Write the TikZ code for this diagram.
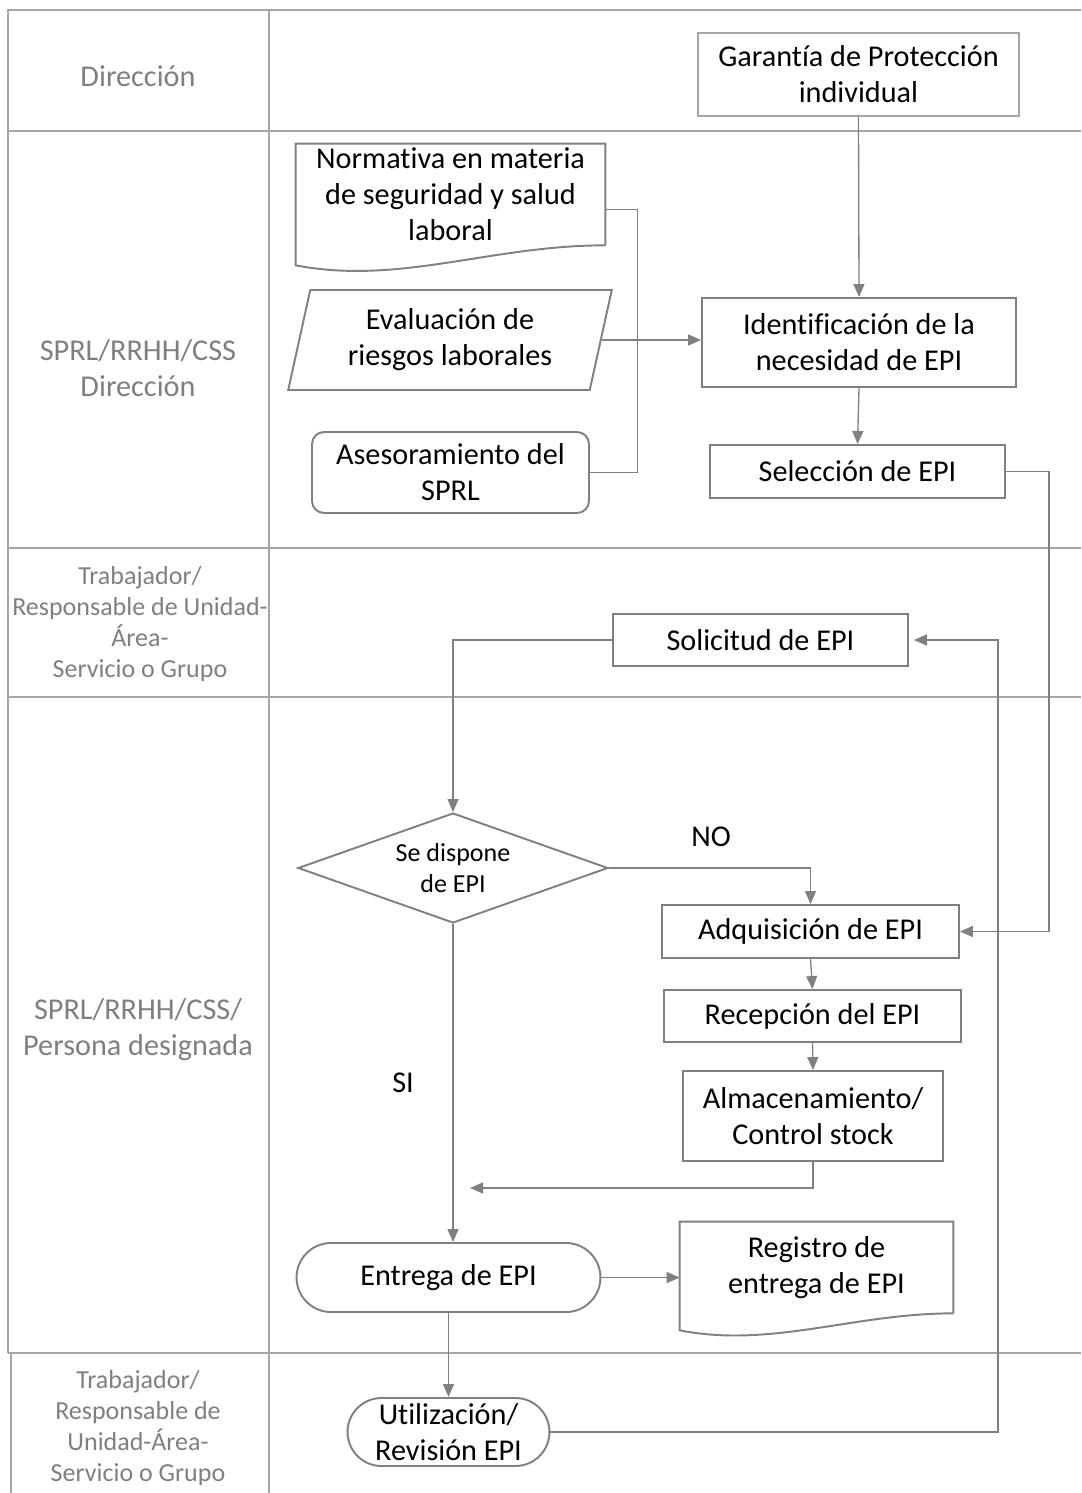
\documentclass[tikz,border=0pt]{standalone}
\usepackage{fontspec}
\setmainfont{Carlito}[Ligatures=NoCommon]
\usetikzlibrary{shapes.geometric,shapes.misc,arrows.meta,positioning}
\definecolor{edgegray}{HTML}{808080}
\definecolor{softgray}{HTML}{A6A6A6}
\definecolor{labelgray}{HTML}{7F7F7F}
\begin{document}
\begin{tikzpicture}[x=0.02cm, y=-0.02cm,
      % --- GLOBAL STYLES ---
      every node/.style={font=\fontsize{17.2}{20.5}\selectfont, text=black},
      proc/.style={rectangle, draw=edgegray, line width=1.1pt, align=center, inner sep=2pt},
      docu/.style={rectangle, draw=none, align=center, inner sep=2pt},
      shapeline/.style={draw=edgegray, line width=1.1pt},
      para/.style={trapezium, trapezium left angle=76, trapezium right angle=104, trapezium stretches,
                   draw=edgegray, line width=1.1pt, align=center, inner sep=1pt},
      term/.style={rounded rectangle, draw=edgegray, line width=1.1pt, align=center, inner sep=2pt},
      decision/.style={diamond, aspect=2.8, draw=edgegray, line width=1.1pt, align=center, inner sep=0pt,
                       font=\fontsize{14.8}{17.6}\selectfont},
      lanetext/.style={text=labelgray, align=center},
      smalltext/.style={font=\fontsize{14.8}{17.6}\selectfont},
      %
      lanes/.style={draw=softgray, line width=1.4pt},
      line/.style={draw=edgegray, line width=0.75pt},
      arr/.style={line, -{Triangle[length=0.26cm, width=0.22cm]}}
  ]
    \useasboundingbox (0,0) rectangle (1081,1493);
    %
    % 1. Swimlanes
    \draw[lanes] (1081,10) -- (8,10) -- (8,1353);
    \draw[lanes] (11,1353) -- (11,1493);
    \draw[draw=softgray, line width=0.8pt] (269,10) -- (269,1493);
    \foreach \y in {131,548,697,1353}
      \draw[lanes] (8,\y) -- (1081,\y);
    %
    % 2. Lane labels
    \node[lanetext] (lane1) at (138,76) {Dirección};
    \node[lanetext] (lane2) at (138,368) {SPRL/RRHH/CSS\\Dirección};
    \node[lanetext, smalltext] (lane3) at (140,624) {Trabajador/\\Responsable de Unidad-\\Área-\\Servicio o Grupo};
    \node[lanetext] (lane4) at (138,1030) {SPRL/RRHH/CSS/\\Persona designada};
    \node[lanetext, smalltext] (lane5) at (138,1428) {Trabajador/\\Responsable de\\Unidad-Área-\\Servicio o Grupo};
    %
    % 3. Inputs
    \node[proc, draw=softgray, minimum width=6.42cm, minimum height=1.66cm] (gar) at (858.5,74.5) {Garantía de Protección\\individual};
    \node[docu, minimum width=6.18cm, minimum height=2.02cm] (nor) at (450.5,194.5) {Normativa en materia\\de seguridad y salud\\laboral};
    \draw[shapeline] (nor.south east) -- (nor.north east) -- (nor.north west) -- ([yshift=-0.4cm]nor.south west)
      .. controls +(2.08cm,-0.4cm) and +(-2.3cm,0) .. (nor.south east);
    \node[para, minimum width=6.48cm, minimum height=2cm] (eva) at (450,340) {Evaluación de\\riesgos laborales};
    \node[proc, rounded corners=0.24cm, minimum width=5.54cm, minimum height=1.62cm] (ase) at (450.5,472.5) {Asesoramiento del\\SPRL};
    %
    % 4. Process steps
    \node[proc, minimum width=6.28cm, minimum height=1.78cm] (ide) at (859,342.5) {Identificación de la\\necesidad de EPI};
    \node[proc, minimum width=5.9cm, minimum height=1.06cm] (sel) at (857.5,471.5) {Selección de EPI};
    \node[proc, minimum width=5.9cm, minimum height=1.04cm] (sol) at (760.5,640) {Solicitud de EPI};
    \node[decision, minimum width=6.2cm, minimum height=2.2cm] (dia) at (453,868) {Se dispone\\de EPI};
    \node[proc, minimum width=5.94cm, minimum height=1.06cm] (adq) at (810.5,931.5) {Adquisición de EPI};
    \node[proc, minimum width=5.94cm, minimum height=1.04cm] (rec) at (812.5,1016) {Recepción del EPI};
    \node[proc, minimum width=5.2cm, minimum height=1.8cm] (alm) at (813,1116) {Almacenamiento/\\Control stock};
    \node[term, minimum width=6.22cm, minimum height=1.38cm] (ent) at (448.5,1277.5) {Entrega de EPI};
    \node[docu, minimum width=5.46cm, minimum height=1.82cm] (reg) at (816.5,1267.5) {Registro de\\entrega de EPI};
    \draw[shapeline] (reg.south east) -- (reg.north east) -- (reg.north west) -- ([yshift=-0.34cm]reg.south west)
      .. controls +(1.84cm,-0.36cm) and +(-2.0cm,0) .. (reg.south east);
    \node[term, minimum width=4.18cm, minimum height=1.36cm] (uti) at (448.5,1432) {Utilización/\\Revisión EPI};
    %
    % 5. Branch labels
    \node (no) at (711,837) {NO};
    \node (si) at (403,1083) {SI};
    %
    % 6. Connectors
    \draw[arr] (gar.south) -- (ide.north);
    \draw[line] ([yshift=-0.3cm]nor.east) -- ++(32,0) |- (ase.east);
    \draw[arr] (eva.east) -- (eva.east -| ide.west);
    \draw[arr] (ide.south) -- (sel.north);
    \coordinate (selturn) at (1049,471.5);
    \draw[arr] (sel.east) -- (selturn) |- (adq.east);
    \draw[arr] (sol.west) -| (dia.north);
    \draw[arr] (dia.east) -| (adq.north);
    \draw[arr] (adq.south) -- (rec.north);
    \draw[arr] (rec.south) -- (alm.north);
    \coordinate (merge) at (470,1188);
    \draw[arr] (alm.south) |- (merge);
    \draw[arr] (dia.south) -- (dia.south |- ent.north);
    \draw[arr] (ent.east) -- (ent.east -| reg.west);
    \draw[arr] (ent.south) -- (uti.north);
    \coordinate (backturn) at (998,1432);
    \draw[arr] (uti.east) -- (backturn) |- ([xshift=0.1cm]sol.east);
\end{tikzpicture}
\end{document}
